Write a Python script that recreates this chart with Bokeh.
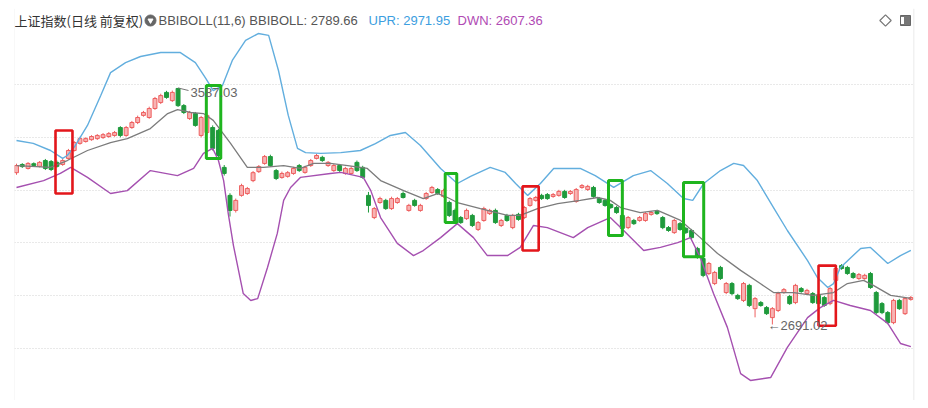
from bokeh.plotting import figure
from bokeh.models import Range1d, FixedTicker, Label, Span, ColumnDataSource
from bokeh.embed import file_html
from bokeh.resources import INLINE

# ---------------- data ----------------
opens = [3266, 3297, 3282, 3300, 3290, 3312, 3308, 3305, 3297, 3320,
         3350, 3377, 3384, 3391, 3395, 3399, 3403, 3407, 3437, 3407,
         3437, 3456, 3483, 3475, 3509, 3532, 3570, 3539, 3585, 3520,
         3471, 3490, 3407, 3418, 3437, 3426, 3286, 3180, 3123, 3180,
         3187, 3236, 3270, 3301, 3327, 3274, 3248, 3252, 3263, 3293,
         3267, 3293, 3320, 3324, 3293, 3274, 3293, 3263, 3263, 3305,
         3286, 3180, 3096, 3153, 3161, 3130, 3153, 3187, 3123, 3161,
         3123, 3168, 3191, 3202, 3176, 3153, 3123, 3096, 3092, 3104,
         3051, 3085, 3111, 3123, 3066, 3104, 3058, 3108, 3096, 3142,
         3161, 3180, 3183, 3176, 3180, 3195, 3187, 3157, 3210, 3202,
         3210, 3168, 3161, 3145, 3134, 3104, 3058, 3085, 3085, 3085,
         3108, 3119, 3096, 3058, 3039, 3073, 3055, 3047, 2979, 2941,
         2884, 2846, 2907, 2812, 2846, 2801, 2782, 2839, 2751, 2774,
         2755, 2717, 2744, 2812, 2797, 2774, 2827, 2808, 2808, 2801,
         2793, 2770, 2858, 2914, 2907, 2884, 2865, 2865, 2884, 2812,
         2770, 2736, 2698, 2782, 2732, 2786]
closes = [3293, 3289, 3301, 3293, 3305, 3282, 3278, 3290, 3312, 3350,
          3380, 3395, 3395, 3403, 3407, 3410, 3414, 3418, 3407, 3437,
          3456, 3475, 3494, 3509, 3547, 3558, 3551, 3570, 3520, 3494,
          3494, 3445, 3475, 3483, 3358, 3331, 3263, 3123, 3161, 3217,
          3206, 3266, 3289, 3327, 3293, 3244, 3263, 3266, 3282, 3274,
          3286, 3312, 3331, 3312, 3305, 3293, 3274, 3282, 3282, 3274,
          3248, 3142, 3130, 3168, 3130, 3168, 3168, 3172, 3142, 3142,
          3142, 3187, 3210, 3187, 3198, 3104, 3085, 3077, 3123, 3066,
          3077, 3130, 3123, 3077, 3085, 3085, 3104, 3089, 3134, 3168,
          3172, 3168, 3168, 3183, 3195, 3172, 3195, 3202, 3217, 3214,
          3176, 3153, 3142, 3134, 3115, 3055, 3096, 3073, 3096, 3111,
          3115, 3111, 3058, 3047, 3085, 3051, 3039, 3020, 2945, 2877,
          2922, 2888, 2865, 2846, 2808, 2789, 2846, 2763, 2789, 2763,
          2732, 2751, 2808, 2823, 2770, 2839, 2816, 2820, 2774, 2770,
          2763, 2827, 2903, 2903, 2884, 2869, 2880, 2877, 2831, 2736,
          2736, 2698, 2782, 2751, 2789, 2793]
highs = [3300, 3302, 3306, 3305, 3310, 3318, 3314, 3312, 3318, 3356,
         3386, 3402, 3400, 3408, 3412, 3416, 3420, 3424, 3442, 3443,
         3462, 3482, 3500, 3516, 3553, 3565, 3576, 3577, 3587.03, 3526,
         3500, 3496, 3481, 3490, 3445, 3432, 3295, 3188, 3168, 3224,
         3212, 3272, 3295, 3333, 3334, 3280, 3270, 3272, 3288, 3299,
         3292, 3318, 3337, 3330, 3310, 3299, 3299, 3288, 3290, 3312,
         3292, 3193, 3136, 3175, 3167, 3175, 3174, 3195, 3148, 3167,
         3148, 3193, 3216, 3208, 3205, 3160, 3130, 3102, 3130, 3110,
         3083, 3137, 3129, 3130, 3091, 3110, 3110, 3114, 3140, 3174,
         3178, 3186, 3189, 3189, 3201, 3201, 3200, 3208, 3223, 3220,
         3216, 3174, 3167, 3150, 3140, 3110, 3102, 3091, 3102, 3117,
         3121, 3125, 3102, 3064, 3091, 3079, 3061, 3053, 2985, 2947,
         2928, 2894, 2913, 2852, 2852, 2807, 2852, 2845, 2795, 2780,
         2761, 2757, 2815, 2829, 2803, 2845, 2833, 2826, 2814, 2807,
         2799, 2833, 2909, 2920, 2913, 2890, 2886, 2883, 2890, 2818,
         2776, 2742, 2788, 2788, 2795, 2799]
lows = [3258, 3284, 3278, 3289, 3286, 3276, 3272, 3285, 3292, 3315,
        3346, 3372, 3380, 3387, 3390, 3394, 3398, 3402, 3400, 3402,
        3432, 3450, 3478, 3470, 3504, 3526, 3546, 3534, 3515, 3488,
        3466, 3440, 3400, 3410, 3350, 3320, 3255, 3100, 3115, 3175,
        3182, 3230, 3265, 3296, 3288, 3238, 3243, 3247, 3258, 3269,
        3262, 3288, 3316, 3307, 3288, 3269, 3269, 3258, 3258, 3269,
        3243, 3115, 3090, 3148, 3125, 3125, 3148, 3168, 3118, 3137,
        3118, 3163, 3186, 3182, 3171, 3098, 3080, 3072, 3087, 3060,
        3045, 3080, 3106, 3072, 3060, 3080, 3052, 3084, 3090, 3137,
        3156, 3163, 3163, 3171, 3175, 3167, 3182, 3152, 3205, 3197,
        3171, 3148, 3137, 3129, 3110, 3049, 3052, 3068, 3080, 3080,
        3103, 3106, 3052, 3042, 3034, 3046, 3034, 3015, 2940, 2870,
        2878, 2840, 2860, 2806, 2802, 2784, 2776, 2757, 2718, 2758,
        2727, 2691.02, 2738, 2807, 2765, 2768, 2811, 2803, 2769, 2765,
        2758, 2764, 2852, 2898, 2879, 2864, 2860, 2860, 2826, 2730,
        2730, 2692, 2692, 2746, 2727, 2781]

# BBIBOLL bands: (candle index, value) samples
upper_idx = [0, 2.9, 5.9, 8, 8.8, 10.2, 12.3, 14.6, 16.3, 18.9, 21.5, 25, 28.4,
             31, 32.8, 34.1, 35.7, 37.4, 39.7, 41.9, 43.7, 45.4, 47.1, 48.7,
             50.1, 52.7, 56.2, 59.6, 62.2, 64.8, 67.4, 70, 73.5, 76.4, 78.7,
             82.1, 84.7, 86.5, 88.6, 90.8, 93.1, 97.7, 100.3, 103.5, 106.9,
             109.9, 112.8, 115.6, 117.2, 119.1, 122, 124.3, 126, 128.4, 131.2,
             133.6, 137.1, 138.8, 140.6, 141.6, 142.8, 146.3, 148, 151, 153.2,
             155]
upper_val = [3388, 3377, 3350, 3320, 3331, 3369, 3445, 3558, 3645, 3683, 3706,
             3721, 3721, 3683, 3623, 3577, 3596, 3691, 3767, 3793, 3786, 3653,
             3483, 3358, 3342, 3339, 3342, 3350, 3376, 3407, 3418, 3369, 3282,
             3225, 3252, 3286, 3267, 3225, 3180, 3225, 3282, 3282, 3255, 3210,
             3255, 3274, 3225, 3168, 3161, 3225, 3274, 3301, 3293, 3236, 3134,
             3047, 2933, 2869, 2831, 2846, 2907, 2979, 2983, 2922, 2952, 2971.95]
mid_idx = [0, 5.9, 8.8, 12.3, 16.3, 19.2, 23.2, 26.2, 27.9, 30.2, 32.4, 34.1,
           37.1, 40, 42.8, 46.3, 49.2, 51.5, 54.4, 57.4, 60.8, 63.1, 67.1, 70.5,
           73, 74.7, 76.4, 80.4, 85.1, 87.3, 90.3, 93.8, 97.7, 100.7, 102.9,
           104.7, 108.1, 111.1, 115.1, 118.5, 121.5, 125.5, 128.9, 131.2, 134.7,
           138.1, 141.6, 144, 146.8, 148.5, 151.5, 155]
mid_val = [3293, 3286, 3312, 3350, 3380, 3395, 3433, 3490, 3505, 3494, 3490,
           3464, 3377, 3286, 3286, 3293, 3282, 3301, 3301, 3293, 3282, 3236,
           3198, 3168, 3187, 3172, 3153, 3130, 3104, 3104, 3130, 3149, 3161,
           3172, 3161, 3134, 3115, 3123, 3085, 3020, 2960, 2896, 2846, 2812,
           2812, 2801, 2812, 2846, 2858, 2839, 2801, 2789.66]
lower_idx = [0, 4.7, 7.6, 9.4, 12.3, 16.3, 19.2, 23.2, 27.9, 30.7, 32.4, 34,
             35, 35.9, 36.7, 37.6, 39.3, 40.6, 41.8, 43.5, 45.2, 46.3, 47.5,
             49.2, 54.4, 56.2, 60.1, 61.4, 63.1, 66, 68.8, 70.5, 73.5, 76.4,
             79.2, 81.6, 85.1, 87.3, 89.6, 92, 96.5, 99, 102.9, 104.7, 108.7,
             111.6, 114.6, 116.8, 118.5, 120.8, 123.2, 125.5, 127.2, 130.7,
             133.6, 137.1, 139.3, 141.6, 144.5, 148, 151, 153.2, 155]
lower_val = [3210, 3236, 3263, 3286, 3248, 3187, 3198, 3274, 3255, 3282, 3339,
             3358, 3312, 3236, 3111, 2990, 2808, 2782, 2789, 2907, 3036, 3161,
             3210, 3248, 3263, 3267, 3248, 3198, 3096, 2998, 2952, 2971, 3020,
             3073, 3020, 2952, 2952, 2983, 3066, 3058, 3020, 3058, 3096, 3058,
             2971, 2983, 3001, 3020, 2945, 2808, 2680, 2505, 2479, 2490, 2604,
             2717, 2755, 2782, 2763, 2744, 2695, 2619, 2607.36]

grid_levels = [2600, 2800, 3000, 3200, 3400, 3600]

# highlighted boxes: (first idx, last idx, low, high)
red_boxes = [(6.76, 9.7, 3187, 3426), (87.7, 90.5, 2971, 3214), (139.0, 142.0, 2686, 2914)]
green_boxes = [(32.9, 35.4, 3320, 3596), (74.3, 76.3, 3077, 3263),
               (102.6, 105.0, 3028, 3236), (115.6, 119.1, 2948, 3229)]

# ---------------- layout helpers ----------------
PX_PER_IDX = 5.77
X0_PX = 16.0          # page x of candle 0
PX_PER_PT = 0.264     # pixels per index point
Y3600_PX = 84.0


def px_x(px):
    return (px - X0_PX) / PX_PER_IDX


def px_y(py):
    return 3600 - (py - Y3600_PX) / PX_PER_PT


# the page is drawn from (0,0): frame spans page x 14..914, y 8..400
W, H = 920, 400
p = figure(width=W, height=H, output_backend="svg", toolbar_location=None,
           x_range=Range1d(px_x(14), px_x(914)), y_range=Range1d(px_y(400), px_y(8)),
           x_axis_location=None, y_axis_location=None,
           min_border_left=14, min_border_right=6, min_border_top=8, min_border_bottom=0)
p.outline_line_color = None
p.background_fill_color = "white"
p.border_fill_color = "white"
p.xgrid.visible = False
p.ygrid.ticker = FixedTicker(ticks=grid_levels)
p.ygrid.grid_line_color = "#d2d2d2"
p.ygrid.grid_line_dash = "1 2"
p.ygrid.grid_line_width = 1.2

for xx in (px_x(13.5), px_x(913.5)):
    p.add_layout(Span(location=xx, dimension="height", line_color="#e2e2e2", line_width=1))

# candles
idx = list(range(len(closes)))
upd = dict(x=[], o=[], c=[], h=[], l=[], top=[], bot=[])
dnd = dict(x=[], o=[], c=[], h=[], l=[], top=[], bot=[])
for i, o, c, h, l in zip(idx, opens, closes, highs, lows):
    d = upd if c >= o else dnd
    d["x"].append(i); d["o"].append(o); d["c"].append(c)
    d["h"].append(h); d["l"].append(l)
    d["top"].append(max(o, c)); d["bot"].append(min(o, c))
us, ds = ColumnDataSource(upd), ColumnDataSource(dnd)
RED_LINE, RED_FILL = "#ee5f5f", "#f7b3b3"
GRN = "#1f9a3c"
p.segment(x0="x", y0="h", x1="x", y1="l", source=us, line_color=RED_LINE, line_width=1)
p.segment(x0="x", y0="h", x1="x", y1="l", source=ds, line_color=GRN, line_width=1)
p.vbar(x="x", width=0.68, top="top", bottom="bot", source=us,
       fill_color=RED_FILL, line_color=RED_LINE, line_width=1)
p.vbar(x="x", width=0.68, top="top", bottom="bot", source=ds,
       fill_color=GRN, line_color=GRN, line_width=1)

# bands
p.line(upper_idx, upper_val, line_color="#62aede", line_width=1.4)
p.line(mid_idx, mid_val, line_color="#7c7c7c", line_width=1.3)
p.line(lower_idx, lower_val, line_color="#a550b0", line_width=1.4)

# boxes
for x0, x1, lo, hi in red_boxes:
    p.quad(left=x0, right=x1, bottom=lo, top=hi, fill_color=None,
           line_color="#e3161b", line_width=2.6)
for x0, x1, lo, hi in green_boxes:
    p.quad(left=x0, right=x1, bottom=lo, top=hi, fill_color=None,
           line_color="#1fb51f", line_width=3)

# high / low annotations
hi_i = highs.index(max(highs))
lo_i = lows.index(min(lows))
p.segment(x0=[hi_i], y0=[highs[hi_i]], x1=[px_x(188)], y1=[px_y(90)],
          line_color="#777777", line_width=1)
p.add_layout(Label(x=px_x(190), y=px_y(92), text=f"{highs[hi_i]:.2f}",
                   text_font="Liberation Sans", text_font_size="13px",
                   text_color="#666666", text_align="left", text_baseline="middle"))
p.add_layout(Label(x=px_x(767), y=px_y(325), text=f"\u2190{lows[lo_i]:.2f}",
                   text_font="Liberation Sans", text_font_size="13px",
                   text_color="#666666", text_align="left", text_baseline="middle"))

# title row
TY = px_y(20)
def lab(px, txt, color, font="Liberation Sans"):
    p.add_layout(Label(x=px_x(px), y=TY, text=txt, text_font=font,
                       text_font_size="13px", text_color=color,
                       text_align="left", text_baseline="middle"))

lab(14, "上证指数(日线 前复权)", "#333333", "Noto Sans CJK SC")
p.scatter([px_x(150)], [TY], size=11, marker="circle", fill_color="#666666", line_color="#666666")
p.scatter([px_x(150)], [TY], size=5, marker="inverted_triangle", fill_color="white", line_color="white")
lab(158, "BBIBOLL(11,6)  BBIBOLL: 2789.66", "#555555")
lab(368, "UPR: 2971.95", "#3d9ee0")
lab(457, "DWN: 2607.36", "#b04ab4")

# top-right icons
p.scatter([px_x(885)], [TY], size=8, marker="square", angle=0.785398, fill_color=None,
          line_color="#777777", line_width=1.2)
p.rect([px_x(905)], [TY], width=10 / PX_PER_IDX, height=10 / PX_PER_PT,
       fill_color="#777777", line_color="#666666")
p.rect([px_x(902)], [TY], width=3 / PX_PER_IDX, height=7 / PX_PER_PT,
       fill_color="white", line_color=None)

open("out.html", "w").write(file_html(p, INLINE))
